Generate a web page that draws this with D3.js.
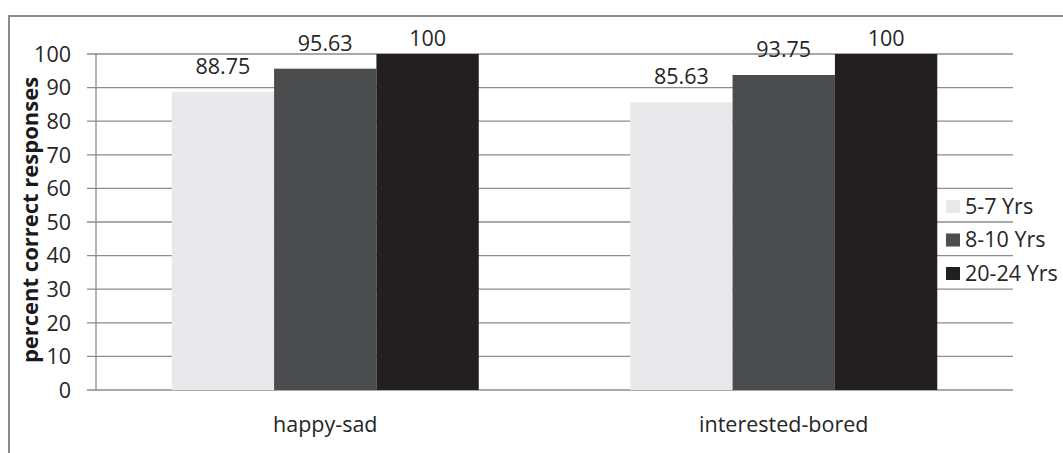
<!DOCTYPE html>
<html><head><meta charset="utf-8">
<script src="https://cdn.jsdelivr.net/npm/d3@7"></script>
<style>body{margin:0;background:#fff}svg{display:block}text{font-family:"Open Sans",Lato,sans-serif;fill:#262626}</style>
</head><body><svg id="c" width="1063" height="453"></svg>
<script>
const categories = ["happy-sad", "interested-bored"];
const seriesNames = ["5-7 Yrs", "8-10 Yrs", "20-24 Yrs"];
const values57 = [88.75, 85.63];
const values810 = [95.63, 93.75];
const values2024 = [100, 100];
const yTicks = [0,10,20,30,40,50,60,70,80,90,100];
const colors = ["#e9e9eb", "#4b4c4e", "#231f20"];
const seriesValues = [values57, values810, values2024];

const svg = d3.select("#c");
const pLeft = 96, pRight = 1013, pTop = 54, pBottom = 390;
const fs = 21.5;

// outer frame (top and left edges visible)
svg.append("path").attr("d", "M9,453 V16 H1063").attr("fill","none").attr("stroke","#8c8c8c").attr("stroke-width",2);

const y = d3.scaleLinear().domain([0,100]).range([pBottom, pTop]);
const x0 = d3.scaleBand().domain(categories).range([pLeft, pRight]).padding(0);
const x1 = d3.scaleBand().domain(seriesNames).range([0, x0.bandwidth()]).paddingInner(0).paddingOuter(0.74);

// gridlines
svg.append("g").selectAll("line").data(yTicks).join("line")
  .attr("x1", pLeft - 9).attr("x2", pRight)
  .attr("y1", d => y(d)).attr("y2", d => y(d))
  .attr("stroke", "#8c8c8c").attr("stroke-width", 1.3);

// y-axis line
svg.append("line").attr("x1", pLeft).attr("x2", pLeft).attr("y1", y(100)).attr("y2", y(0))
  .attr("stroke", "#8c8c8c").attr("stroke-width", 1.3);

// tick labels
svg.append("g").selectAll("text").data(yTicks).join("text")
  .attr("x", 71).attr("y", d => y(d)).attr("dy", "0.36em")
  .attr("text-anchor", "end").attr("font-size", fs).text(d => d);

// bars
const data = [];
categories.forEach((c, i) => seriesNames.forEach((s, j) => data.push({c, s, v: seriesValues[j][i], j})));
svg.append("g").selectAll("rect").data(data).join("rect")
  .attr("x", d => x0(d.c) + x1(d.s)).attr("width", x1.bandwidth())
  .attr("y", d => y(d.v)).attr("height", d => y(0) - y(d.v))
  .attr("fill", d => colors[d.j]);

// value labels
svg.append("g").selectAll("text").data(data).join("text")
  .attr("x", d => x0(d.c) + x1(d.s) + x1.bandwidth()/2)
  .attr("y", d => Math.max(y(d.v) - 18, y(100) - 8))
  .attr("text-anchor", "middle").attr("font-size", fs)
  .text(d => d.v);

// category labels
svg.append("g").selectAll("text").data(categories).join("text")
  .attr("x", d => x0(d) + x0.bandwidth()/2).attr("y", 432)
  .attr("text-anchor", "middle").attr("font-size", fs).text(d => d);

// y-axis title
svg.append("text").attr("transform", `translate(38,220) rotate(-90)`)
  .attr("text-anchor", "middle").attr("font-size", 22).attr("font-weight", "bold")
  .style("fill", "#1a1a1a")
  .text("percent correct responses");

// legend
const lg = svg.append("g").selectAll("g").data(seriesNames).join("g")
  .attr("transform", (d, i) => `translate(946,${200 + i*33.5})`);
lg.append("rect").attr("width", 14).attr("height", 13).attr("fill", (d,i) => colors[i]);
lg.append("text").attr("x", 19).attr("y", 13.5).attr("font-size", fs).text(d => d);
</script></body></html>
